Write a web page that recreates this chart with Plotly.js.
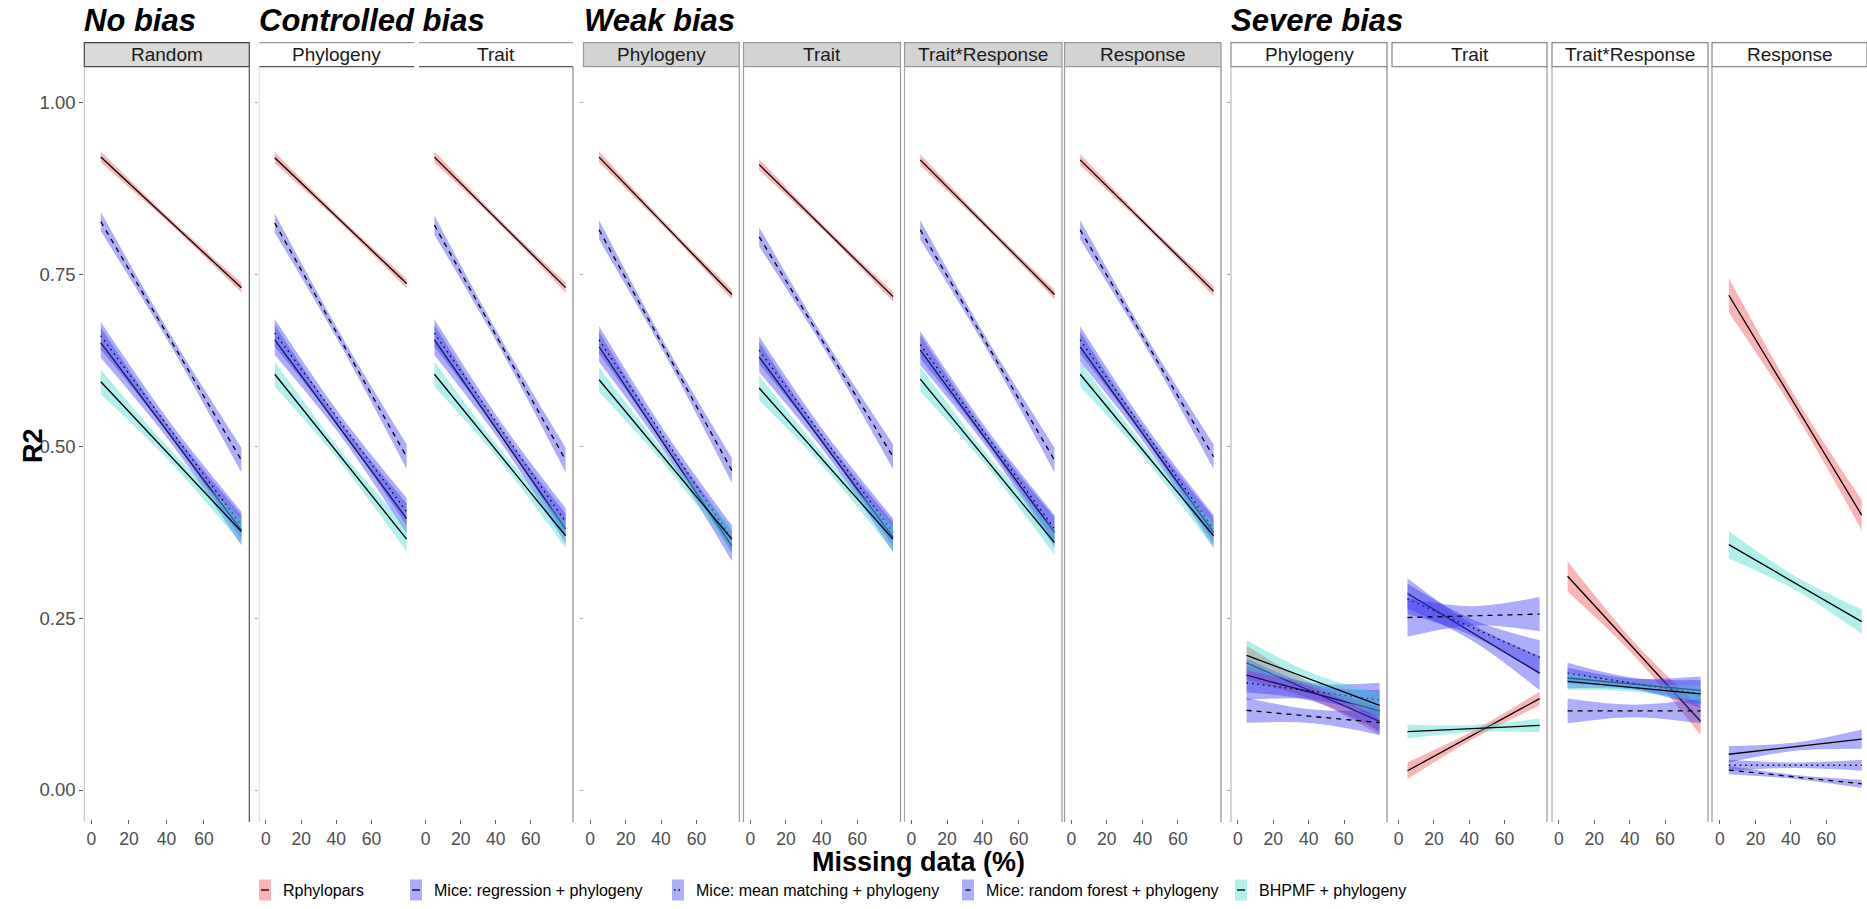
<!DOCTYPE html>
<html><head><meta charset="utf-8">
<script src="https://cdn.plot.ly/plotly-3.0.1.min.js"></script>
<style>html,body{margin:0;padding:0;background:#fff}#chart{width:1867px;height:909px}</style>
</head><body><div id="chart"></div>
<script>
// ---------------- data ----------------
const groupTitles = ["No bias", "Controlled bias", "Weak bias", "Severe bias"];
const groupPanels = [[0], [1, 2], [3, 4, 5, 6], [7, 8, 9, 10]];
const panelLabels = ["Random", "Phylogeny", "Trait", "Phylogeny", "Trait", "Trait*Response", "Response",
                     "Phylogeny", "Trait", "Trait*Response", "Response"];
const methods = ["Rphylopars", "Mice: regression + phylogeny", "Mice: mean matching + phylogeny",
                 "Mice: random forest + phylogeny", "BHPMF + phylogeny"];
const missingX = [5, 42.5, 80];          // % missing data: start, middle, end of fitted lines
const xTicks = [0, 20, 40, 60];
const yTicks = [0, 0.25, 0.5, 0.75, 1];
const yTickText = ["0.00", "0.25", "0.50", "0.75", "1.00"];

// fitted R2 at 5% and 80% missing data (one value per panel)
const rphyloparsStart = [0.921, 0.920, 0.921, 0.921, 0.910, 0.917, 0.917, 0.185, 0.028, 0.311, 0.720];
const rphyloparsEnd   = [0.731, 0.737, 0.731, 0.721, 0.718, 0.721, 0.726, 0.100, 0.133, 0.100, 0.400];
const regressionStart = [0.651, 0.655, 0.655, 0.645, 0.630, 0.640, 0.645, 0.167, 0.286, 0.163, 0.052];
const regressionEnd   = [0.378, 0.395, 0.380, 0.355, 0.368, 0.375, 0.375, 0.115, 0.170, 0.145, 0.074];
const meanMatchStart  = [0.661, 0.665, 0.665, 0.655, 0.640, 0.648, 0.655, 0.156, 0.278, 0.170, 0.036];
const meanMatchEnd    = [0.385, 0.405, 0.390, 0.365, 0.375, 0.380, 0.380, 0.131, 0.193, 0.140, 0.036];
const forestStart     = [0.827, 0.825, 0.822, 0.815, 0.805, 0.815, 0.815, 0.116, 0.251, 0.115, 0.029];
const forestEnd       = [0.480, 0.485, 0.480, 0.465, 0.485, 0.480, 0.485, 0.098, 0.256, 0.115, 0.009];
const bhpmfStart      = [0.594, 0.605, 0.605, 0.597, 0.585, 0.598, 0.605, 0.196, 0.085, 0.158, 0.357];
const bhpmfEnd        = [0.376, 0.365, 0.370, 0.365, 0.365, 0.360, 0.370, 0.123, 0.094, 0.140, 0.245];

// confidence band half-widths at start / middle / end (one value per panel)
const rphyloparsCI = {
  start: [0.008, 0.008, 0.008, 0.008, 0.008, 0.008, 0.008, 0.025, 0.012, 0.022, 0.025],
  mid:   [0.004, 0.004, 0.004, 0.004, 0.004, 0.004, 0.004, 0.012, 0.006, 0.010, 0.012],
  end:   [0.007, 0.007, 0.007, 0.007, 0.007, 0.007, 0.007, 0.020, 0.010, 0.020, 0.022]};
const regressionCI = {
  start: [0.022, 0.022, 0.022, 0.022, 0.022, 0.022, 0.022, 0.025, 0.022, 0.015, 0.012],
  mid:   [0.010, 0.010, 0.010, 0.010, 0.010, 0.010, 0.010, 0.012, 0.012, 0.008, 0.006],
  end:   [0.022, 0.022, 0.022, 0.022, 0.022, 0.022, 0.022, 0.030, 0.025, 0.020, 0.014]};
const meanMatchCI = {
  start: [0.020, 0.020, 0.020, 0.020, 0.020, 0.020, 0.020, 0.025, 0.022, 0.015, 0.008],
  mid:   [0.010, 0.010, 0.010, 0.010, 0.010, 0.010, 0.010, 0.012, 0.012, 0.008, 0.004],
  end:   [0.020, 0.020, 0.020, 0.020, 0.020, 0.020, 0.020, 0.025, 0.025, 0.020, 0.008]};
const forestCI = {
  start: [0.014, 0.014, 0.014, 0.014, 0.014, 0.014, 0.014, 0.018, 0.028, 0.018, 0.006],
  mid:   [0.008, 0.008, 0.008, 0.008, 0.008, 0.008, 0.008, 0.010, 0.014, 0.009, 0.003],
  end:   [0.018, 0.018, 0.018, 0.018, 0.018, 0.018, 0.018, 0.018, 0.025, 0.018, 0.006]};
const bhpmfCI = {
  start: [0.018, 0.018, 0.018, 0.018, 0.018, 0.018, 0.018, 0.022, 0.010, 0.012, 0.020],
  mid:   [0.009, 0.009, 0.009, 0.009, 0.009, 0.009, 0.009, 0.010, 0.005, 0.006, 0.010],
  end:   [0.018, 0.018, 0.018, 0.018, 0.018, 0.018, 0.018, 0.018, 0.010, 0.012, 0.018]};

// ---------------- styles / layout geometry ----------------
const W = 1867, H = 909;
const FONT = "Liberation Sans, Arial, sans-serif";
const seriesStart = [rphyloparsStart, regressionStart, meanMatchStart, forestStart, bhpmfStart];
const seriesEnd = [rphyloparsEnd, regressionEnd, meanMatchEnd, forestEnd, bhpmfEnd];
const seriesCI = [rphyloparsCI, regressionCI, meanMatchCI, forestCI, bhpmfCI];
const fillColors = ["rgba(242,90,90,0.45)", "rgba(50,50,240,0.40)", "rgba(50,50,240,0.40)",
                    "rgba(50,50,240,0.40)", "rgba(60,215,205,0.40)"];
const keyColors = ["#F9B5B5", "#ADADF9", "#ADADF9", "#ADADF9", "#B1EFEB"];
const dashes = ["solid", "solid", "1.5px,4px", "5px,5px", "solid"];
const keyDashes = ["solid", "solid", "1.5px,3px", "solid", "solid"];
const keyLineLen = [8, 8, 8, 5, 8];

const panelLeft  = [84.3, 259.3, 419, 583.5, 743.5, 904.5, 1064.5, 1231, 1392, 1552, 1712];
const panelRight = [249.3, 414, 573, 739.3, 900.5, 1062, 1221, 1387, 1547, 1708, 1867];
const borderLeft  = ["#c8c8c8", "#e0e0e0", null, null, "#999", "#aaa", "#999", "#bbb", null, "#aaa", "#999"];
const borderRight = ["#555", null, "#888", "#999", "#999", "#999", "#888", "#888", "#999", "#999", null];
const panelTop = 66.7, panelBottom = 818.5, borderBottom = 822, stripTop = 42.7;
const yRange = [-(panelBottom - 790) / 687.2, 1 + (102.8 - panelTop) / 687.2];

const px = x => x / W, py = y => 1 - y / H;

const data = [];
const layout = {
  width: W, height: H, margin: {l: 0, r: 0, t: 0, b: 0},
  paper_bgcolor: "#fff", plot_bgcolor: "rgba(0,0,0,0)",
  showlegend: false, font: {family: FONT, color: "#4d4d4d"},
  shapes: [], annotations: []
};

for (let p = 0; p < panelLabels.length; p++) {
  const xa = p === 0 ? "x" : "x" + (p + 1), ya = p === 0 ? "y" : "y" + (p + 1);
  const xk = p === 0 ? "xaxis" : "xaxis" + (p + 1), yk = p === 0 ? "yaxis" : "yaxis" + (p + 1);
  const xr = p === 10 ? [-4.5, 83] : [-3.8, 84.2];
  layout[xk] = {
    domain: [px(panelLeft[p]), px(panelRight[p])], anchor: ya, range: xr,
    tickvals: xTicks, ticktext: xTicks.map(String), ticks: "outside", ticklen: 4, tickwidth: 1,
    tickcolor: "#666", tickfont: {family: FONT, size: 17.5, color: "#4d4d4d"},
    showgrid: false, zeroline: false, showline: false, fixedrange: true
  };
  const showYTicks = [0, 1, 3, 7].includes(p);
  layout[yk] = {
    domain: [py(panelBottom), py(panelTop)], anchor: xa, range: yRange,
    tickvals: yTicks, ticktext: yTickText, showticklabels: p === 0,
    ticks: showYTicks ? "outside" : "", ticklen: p === 0 ? 4 : 3, tickwidth: 1,
    tickcolor: p === 0 ? "#555" : "#aaa",
    tickfont: {family: FONT, size: 18.5, color: "#4d4d4d"},
    showgrid: false, zeroline: false, showline: false, fixedrange: true
  };

  for (let m = 0; m < methods.length; m++) {
    const s = seriesStart[m][p], e = seriesEnd[m][p], ci = seriesCI[m];
    const centre = [s, (s + e) / 2, e];
    const hw = [ci.start[p], ci.mid[p], ci.end[p]];
    data.push({type: "scatter", mode: "lines", xaxis: xa, yaxis: ya, x: missingX,
      y: centre.map((c, i) => c - hw[i]), line: {width: 0, shape: "spline", color: "rgba(0,0,0,0)"},
      hoverinfo: "skip", showlegend: false});
    data.push({type: "scatter", mode: "lines", xaxis: xa, yaxis: ya, x: missingX,
      y: centre.map((c, i) => c + hw[i]), fill: "tonexty", fillcolor: fillColors[m],
      line: {width: 0, shape: "spline", color: "rgba(0,0,0,0)"}, hoverinfo: "skip", showlegend: false});
    data.push({type: "scatter", mode: "lines", xaxis: xa, yaxis: ya,
      x: [missingX[0], missingX[2]], y: [s, e], name: methods[m],
      line: {color: "#000", width: 1.3, dash: dashes[m]}, hoverinfo: "skip", showlegend: false});
  }

  // panel borders
  if (borderLeft[p]) layout.shapes.push({type: "line", xref: "paper", yref: "paper",
    x0: px(panelLeft[p]), x1: px(panelLeft[p]), y0: py(panelTop), y1: py(borderBottom),
    line: {color: borderLeft[p], width: 1.2}});
  if (borderRight[p]) layout.shapes.push({type: "line", xref: "paper", yref: "paper",
    x0: px(panelRight[p]), x1: px(panelRight[p]), y0: py(panelTop), y1: py(borderBottom),
    line: {color: borderRight[p], width: 1.2}});

  // strip label
  layout.annotations.push({xref: "paper", yref: "paper", x: px((panelLeft[p] + panelRight[p]) / 2),
    y: py((stripTop + panelTop) / 2), text: panelLabels[p], showarrow: false,
    xanchor: "center", yanchor: "middle", font: {family: FONT, size: 19, color: "#1a1a1a"}});
}

// strips per group
const stripFill = ["#D9D9D9", "#FFFFFF", "#D3D3D3", "#FFFFFF"];
const stripBorder = ["#444", "#777", "#999", "#888"];
groupPanels.forEach((g, gi) => {
  g.forEach(p => {
    const x0 = px(panelLeft[p]), x1 = px(panelRight[p]), y0 = py(panelTop), y1 = py(stripTop);
    if (gi === 1) {
      layout.shapes.push({type: "line", xref: "paper", yref: "paper", x0, x1, y0: y1, y1: y1, line: {color: "#999", width: 1.2}});
      layout.shapes.push({type: "line", xref: "paper", yref: "paper", x0, x1, y0, y1: y0, line: {color: "#555", width: 1.2}});
    } else {
      layout.shapes.push({type: "rect", xref: "paper", yref: "paper", x0, x1, y0, y1,
        fillcolor: stripFill[gi], line: {color: stripBorder[gi], width: 1.2}, layer: "below"});
    }
  });
  const first = g[0];
  layout.annotations.push({xref: "paper", yref: "paper", x: px(panelLeft[first] - 2), y: py(21),
    text: "<b><i>" + groupTitles[gi] + "</i></b>", showarrow: false, xanchor: "left", yanchor: "middle",
    font: {family: FONT, size: 31, color: "#000"}});
});

// axis titles
layout.annotations.push({xref: "paper", yref: "paper", x: px(918), y: py(862), text: "<b>Missing data (%)</b>",
  showarrow: false, xanchor: "center", yanchor: "middle", font: {family: FONT, size: 27, color: "#000"}});
layout.annotations.push({xref: "paper", yref: "paper", x: px(33), y: py(446), text: "<b>R2</b>", textangle: -90,
  showarrow: false, xanchor: "center", yanchor: "middle", font: {family: FONT, size: 27, color: "#000"}});

// legend (manual, ggplot-style keys)
const legendKeyX = [259, 410, 672, 962, 1235];
const legendY = 890;
methods.forEach((name, m) => {
  const kx = legendKeyX[m];
  const half = keyLineLen[m] / 2;
  layout.shapes.push({type: "rect", xref: "paper", yref: "paper", x0: px(kx), x1: px(kx + 12),
    y0: py(legendY + 10.5), y1: py(legendY - 10.5), fillcolor: keyColors[m], line: {width: 0}});
  layout.shapes.push({type: "line", xref: "paper", yref: "paper", x0: px(kx + 6 - half), x1: px(kx + 6 + half),
    y0: py(legendY), y1: py(legendY), line: {color: "#000", width: 1.3, dash: keyDashes[m]}});
  layout.annotations.push({xref: "paper", yref: "paper", x: px(kx + 22), y: py(legendY), text: name,
    showarrow: false, xanchor: "left", yanchor: "middle", font: {family: FONT, size: 16, color: "#000"}});
});

Plotly.newPlot("chart", data, layout, {displayModeBar: false, staticPlot: true});
</script></body></html>
